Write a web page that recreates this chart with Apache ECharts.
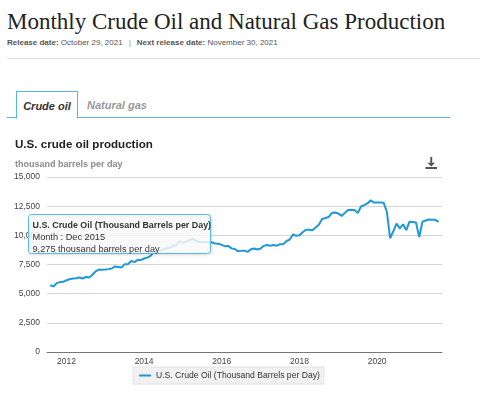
<!DOCTYPE html>
<html>
<head>
<meta charset="utf-8">
<script src="https://cdn.jsdelivr.net/npm/echarts@6/dist/echarts.min.js"></script>
<style>
  html, body {
    margin: 0;
    padding: 0;
    width: 480px;
    height: 397px;
    background: #fff;
    overflow: hidden;
    font-family: 'Liberation Sans', Arial, sans-serif;
  }
  .page-title {
    position: absolute;
    left: 7px;
    top: 9px;
    margin: 0;
    font-family: 'Liberation Serif', 'Times New Roman', serif;
    font-weight: normal;
    font-size: 23px;
    color: #222;
    white-space: nowrap;
  }
  .release {
    position: absolute;
    left: 7px;
    top: 38px;
    font-size: 8px;
    color: #555;
    white-space: nowrap;
  }
  .release b {
    color: #555;
  }
  .release .sep {
    margin: 0 6px;
    color: #888;
  }
  .rule {
    position: absolute;
    left: 7px;
    right: 0;
    top: 58px;
    border-top: 1px solid #ddd;
  }
  .tabs {
    position: absolute;
    left: 7px;
    top: 91px;
    width: 443px;
    height: 26px;
    border-bottom: 1px solid #5ab4e5;
  }
  .tab {
    position: absolute;
    top: 0;
    height: 26px;
    line-height: 28px;
    font-size: 11px;
    font-weight: bold;
    font-style: italic;
    white-space: nowrap;
  }
  .tab.active {
    left: 9px;
    width: 60px;
    border: 1px solid #5ab4e5;
    border-bottom: 1px solid #fff;
    background: #fff;
    color: #333;
    text-align: center;
  }
  .tab.other {
    left: 80px;
    color: #999;
  }
  #chart {
    position: absolute;
    left: 0;
    top: 125px;
    width: 480px;
    height: 272px;
  }
</style>
</head>
<body>
<h1 class="page-title">Monthly Crude Oil and Natural Gas Production</h1>
<div class="release"><b>Release date:</b> October 29, 2021<span class="sep">|</span><b>Next release date:</b> November 30, 2021</div>
<div class="rule"></div>
<div class="tabs">
  <div class="tab active">Crude oil</div>
  <div class="tab other">Natural gas</div>
</div>
<div id="chart"></div>

<script>
  // thousand barrels per day, monthly (2011 starts in August)
  const prod2011 = [5720, 5620, 5900, 5990, 6020];
  const prod2012 = [6145, 6239, 6295, 6329, 6384, 6300, 6426, 6381, 6597, 6911, 7066, 7051];
  const prod2013 = [7068, 7103, 7156, 7335, 7291, 7236, 7530, 7529, 7796, 7705, 7892, 7878];
  const prod2014 = [8016, 8088, 8235, 8566, 8611, 8702, 8785, 8895, 8958, 9104, 9170, 9500];
  const prod2015 = [9355, 9439, 9600, 9690, 9537, 9394, 9427, 9412, 9431, 9394, 9305, 9275];
  const prod2016 = [9180, 9059, 9095, 8882, 8826, 8643, 8668, 8683, 8580, 8804, 8876, 8790];
  const prod2017 = [8864, 9098, 9168, 9112, 9175, 9111, 9240, 9246, 9514, 9637, 10070, 9968];
  const prod2018 = [10003, 10264, 10476, 10479, 10443, 10674, 10905, 11400, 11480, 11569, 11907, 11961];
  const prod2019 = [11871, 11667, 11908, 12162, 12200, 12180, 11900, 12471, 12584, 12737, 13000, 12816];
  const prod2020 = [12820, 12823, 12800, 12020, 9750, 10350, 11000, 10600, 10950, 10450, 11170, 11146];
  const prod2021 = [11110, 9850, 11170, 11272, 11360, 11340, 11330, 11160];

  const firstMonth2011 = 8;
  const yTicks = [0, 2500, 5000, 7500, 10000, 12500, 15000];

  const seriesName = 'U.S. Crude Oil (Thousand Barrels per Day)';
  const lineColor = '#1f98d9';

  // x value = year + (month - 1) / 12
  const yearly = [
    [2011, prod2011, firstMonth2011],
    [2012, prod2012, 1],
    [2013, prod2013, 1],
    [2014, prod2014, 1],
    [2015, prod2015, 1],
    [2016, prod2016, 1],
    [2017, prod2017, 1],
    [2018, prod2018, 1],
    [2019, prod2019, 1],
    [2020, prod2020, 1],
    [2021, prod2021, 1],
  ];
  const points = [];
  yearly.forEach(([year, values, start]) => {
    values.forEach((v, i) => {
      points.push([year + (start - 1 + i) / 12, v]);
    });
  });

  const fmt = (v) => Number(v).toLocaleString('en-US');

  let chartInstance = null;

  const tipFont = '"Liberation Sans", Arial, sans-serif';

  const initChart = () => {
    chartInstance = echarts.init(document.getElementById('chart'));

    const option = {
      animation: false,
      title: {
        text: 'U.S. crude oil production',
        subtext: 'thousand barrels per day',
        left: 15,
        top: 14,
        padding: 0,
        itemGap: 9,
        textStyle: {
          fontFamily: 'Liberation Sans, Arial, sans-serif',
          fontSize: 11.6,
          fontWeight: 'bold',
          color: '#222',
        },
        subtextStyle: {
          fontFamily: 'Liberation Sans, Arial, sans-serif',
          fontSize: 9,
          fontWeight: 'bold',
          color: '#8a8a8a',
        },
      },
      toolbox: {
        right: 28,
        top: 17,
        itemSize: 12,
        feature: {
          saveAsImage: {
            title: '',
            icon: 'path://M5,0 H7 V6 H10 L6,10 L2,6 H5 Z M0,10.5 H12 V12.5 H0 Z',
          },
        },
        iconStyle: {
          color: '#555',
          borderWidth: 0,
        },
      },
      grid: {
        left: 47,
        right: 38,
        top: 52,
        bottom: 45,
      },
      xAxis: {
        type: 'value',
        min: 2011.5,
        max: 2021.67,
        splitNumber: 5,
        axisLine: {
          lineStyle: { color: '#777', width: 1 },
        },
        axisTick: { show: false },
        splitLine: { show: false },
        axisLabel: {
          showMinLabel: false,
          showMaxLabel: false,
          margin: 5,
          fontSize: 8.5,
          color: '#444',
          fontFamily: 'Liberation Sans, Arial, sans-serif',
          formatter: (v) => String(Math.round(v)),
        },
      },
      yAxis: {
        type: 'value',
        min: yTicks[0],
        max: yTicks[yTicks.length - 1],
        interval: yTicks[1] - yTicks[0],
        axisLine: { show: false },
        axisTick: { show: false },
        splitLine: {
          lineStyle: { color: '#d6d6d6', width: 1 },
        },
        axisLabel: {
          margin: 7,
          fontSize: 8.5,
          color: '#444',
          fontFamily: 'Liberation Sans, Arial, sans-serif',
          formatter: fmt,
        },
      },
      legend: {
        data: [seriesName],
        left: 133,
        top: 242,
        icon: 'rect',
        itemWidth: 12,
        itemHeight: 2,
        itemGap: 5,
        padding: [4, 4, 4, 6],
        backgroundColor: '#f1f1f1',
        borderColor: '#e2e2e2',
        borderWidth: 1,
        textStyle: {
          fontSize: 8.6,
          color: '#333',
          fontFamily: 'Liberation Sans, Arial, sans-serif',
        },
      },
      series: [
        {
          name: seriesName,
          type: 'line',
          data: points,
          showSymbol: false,
          symbol: 'none',
          lineStyle: { width: 2, color: lineColor },
          itemStyle: { color: lineColor },
        },
      ],
      // hover tooltip as it stands in the reference (Dec 2015)
      graphic: [
        {
          type: 'group',
          left: 28,
          top: 89,
          z: 100,
          children: [
            {
              type: 'rect',
              z: 100,
              shape: { x: 0, y: 0, width: 182, height: 39, r: 3 },
              style: {
                fill: 'rgba(255,255,255,0.82)',
                stroke: '#5cb8e6',
                lineWidth: 1,
                shadowBlur: 3,
                shadowColor: 'rgba(0,0,0,0.15)',
                shadowOffsetX: 1,
                shadowOffsetY: 1,
              },
            },
            {
              type: 'text',
              z: 101,
              x: 4,
              y: 7,
              style: {
                text: seriesName,
                font: 'bold 8.9px ' + tipFont,
                fill: '#333',
              },
            },
            {
              type: 'text',
              z: 101,
              x: 4,
              y: 18,
              style: {
                text: 'Month : Dec 2015',
                font: '9.2px ' + tipFont,
                fill: '#333',
              },
            },
            {
              type: 'text',
              z: 101,
              x: 4,
              y: 30,
              style: {
                text: fmt(prod2015[11]) + ' thousand barrels per day',
                font: '9.2px ' + tipFont,
                fill: '#333',
              },
            },
          ],
        },
      ],
    };

    chartInstance.setOption(option);
  };

  const resizeChart = () => {
    if (chartInstance) {
      chartInstance.resize();
    }
  };

  initChart();
  window.addEventListener('resize', resizeChart);
</script>
</body>
</html>
